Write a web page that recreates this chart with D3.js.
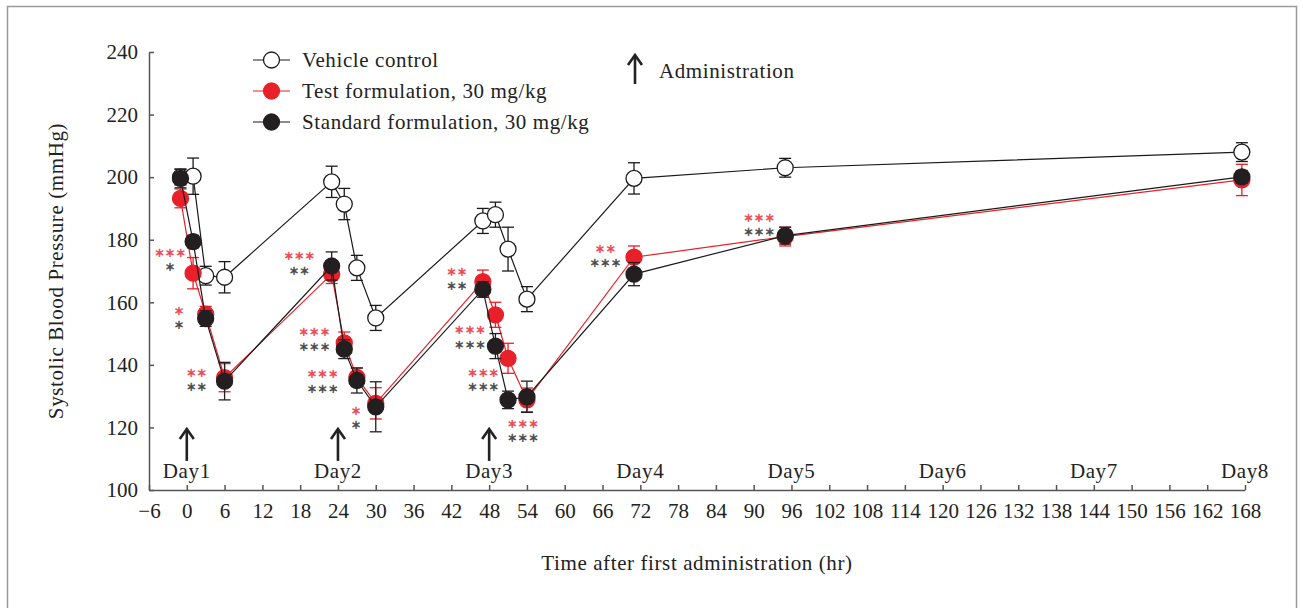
<!DOCTYPE html>
<html>
<head>
<meta charset="utf-8">
<script src="https://cdn.jsdelivr.net/npm/d3@7"></script>
<style>
  body { margin: 0; background: #fff; }
  svg { display: block; font-family: "Liberation Serif", "DejaVu Serif", serif; }
  .axis path, .axis line { stroke: #555; stroke-width: 1.5; }
  .axis text { font-family: "Liberation Serif", serif; font-size: 21px; fill: #222; }
  .label { font-size: 21px; fill: #222; letter-spacing: 0.6px; }
</style>
</head>
<body>
<div class="container"></div>
<script>
// sampling times (hr after first administration)
const times = [-1, 1, 3, 6, 23, 25, 27, 30, 47, 49, 51, 54, 71, 95, 167.5];

const vehicleMean = [200, 200.3, 168.5, 168, 198.5, 191.4, 171, 155, 186, 188, 177, 161, 199.6, 203, 208];
const vehicleSE = [2.5, 5.8, 3, 5, 5, 5, 4, 4, 4, 4, 7, 4, 5, 3, 3];
const testMean = [193.2, 169.3, 156.2, 135.9, 169, 147, 136, 127.7, 166.6, 156, 142.1, 128.8, 174.4, 181, 199.1];
const testSE = [3, 5, 2.5, 4.5, 3, 3.5, 3, 5, 3.7, 4, 4.8, 3.8, 3.6, 3, 5];
const stdMean = [199.6, 179.4, 154.8, 134.8, 171.6, 145, 135, 126.6, 164.1, 146, 128.8, 129.8, 169, 181.3, 200.1];
const stdSE = [3, 2, 2.5, 6, 4.5, 3, 4, 8, 2.5, 4, 2.8, 5, 3.7, 2.7, 2];

// significance marks (anchor in data units: time, mmHg)
const sigTimes = [-2.6, -1.2, 1.6, 17.9, 20.3, 21.6, 26.9, 42.9, 45.0, 47.1, 53.4, 66.5, 90.9];
const sigLevels = [175.7, 157.2, 137.3, 174.6, 150.3, 136.8, 125.2, 169.6, 150.9, 137.3, 121.0, 177.0, 186.8];
const testSig = ["＊＊＊", "＊", "＊＊", "＊＊＊", "＊＊＊", "＊＊＊", "＊", "＊＊", "＊＊＊", "＊＊＊", "＊＊＊", "＊＊", "＊＊＊"];
const stdSig = ["＊", "＊", "＊＊", "＊＊", "＊＊＊", "＊＊＊", "＊", "＊＊", "＊＊＊", "＊＊＊", "＊＊＊", "＊＊＊", "＊＊＊"];

const doseTimes = [0, 24, 48];
const dayLabels = ["Day1", "Day2", "Day3", "Day4", "Day5", "Day6", "Day7", "Day8"];
const dayTimes = [0, 24, 48, 72, 96, 120, 144, 168];
const xTicks = d3.range(-6, 169, 6);
const yTicks = [100, 120, 140, 160, 180, 200, 220, 240];

const seriesNames = ["Vehicle control", "Test formulation, 30 mg/kg", "Standard formulation, 30 mg/kg"];

const W = 1303, H = 608;
const svg = d3.select(".container")
  .append("svg")
  .attr("width", W)
  .attr("height", H);

// frame round the figure
svg.append("rect")
  .attr("x", 7.5).attr("y", 6.5)
  .attr("width", 1289).attr("height", 620)
  .attr("fill", "none")
  .attr("stroke", "#9a9a9a")
  .attr("stroke-width", 1.5);

const xScale = d3.scaleLinear().domain([-6, 168]).range([149, 1245]);
const yScale = d3.scaleLinear().domain([100, 240]).range([490, 52]);

/* axes, ticks pointing inward */
svg.append("g")
  .attr("class", "axis")
  .attr("transform", `translate(0,${yScale(100)})`)
  .call(d3.axisBottom(xScale)
    .tickValues(xTicks)
    .tickSizeInner(-5)
    .tickSizeOuter(0)
    .tickPadding(13)
    .tickFormat(d => (d < 0 ? "\u2212" + Math.abs(d) : d)));

svg.append("g")
  .attr("class", "axis")
  .attr("transform", `translate(${xScale(-6)},0)`)
  .call(d3.axisLeft(yScale)
    .tickValues(yTicks)
    .tickSizeInner(-5)
    .tickSizeOuter(0)
    .tickPadding(11));

// axis titles
svg.append("text")
  .attr("class", "label")
  .attr("x", 697).attr("y", 570)
  .attr("text-anchor", "middle")
  .text("Time after first administration (hr)");

svg.append("text")
  .attr("class", "label")
  .attr("transform", `translate(63,${yScale(170)}) rotate(-90)`)
  .attr("text-anchor", "middle")
  .text("Systolic Blood Pressure (mmHg)");

// day labels
svg.append("g").selectAll("text")
  .data(dayLabels)
  .join("text")
  .attr("class", "label")
  .attr("x", (d, i) => xScale(dayTimes[i]))
  .attr("y", 478)
  .attr("text-anchor", "middle")
  .text(d => d);

// administration arrows
const arrow = (g, x, yTop, yBot) => {
  g.append("line")
    .attr("x1", x).attr("x2", x)
    .attr("y1", yTop + 1).attr("y2", yBot);
  g.append("path")
    .attr("d", `M${x - 7},${yTop + 10}L${x},${yTop}L${x + 7},${yTop + 10}`)
    .attr("fill", "none");
};
const arrows = svg.append("g")
  .attr("stroke", "#222")
  .attr("stroke-width", 2.6);
doseTimes.forEach(t => arrow(arrows, xScale(t), yScale(119.5), yScale(109.3)));

/* series */
const series = [
  { mean: vehicleMean, se: vehicleSE, line: "#1a1a1a", fill: "#fff", stroke: "#1a1a1a" },
  { mean: testMean, se: testSE, line: "#e8202a", fill: "#e8202a", stroke: "#e8202a" },
  { mean: stdMean, se: stdSE, line: "#1a1a1a", fill: "#231f20", stroke: "#231f20" }
];

const line = d3.line()
  .x(d => xScale(d.t))
  .y(d => yScale(d.v));

series.forEach(s => {
  const pts = times.map((t, i) => ({ t: t, v: s.mean[i], e: s.se[i] }));
  const g = svg.append("g");

  g.append("path")
    .datum(pts)
    .attr("d", line)
    .attr("fill", "none")
    .attr("stroke", s.line)
    .attr("stroke-width", 1.2);

  // error bars
  const eb = g.append("g")
    .attr("stroke", s.stroke)
    .attr("stroke-width", 1.3);
  pts.forEach(d => {
    const x = xScale(d.t);
    eb.append("line")
      .attr("x1", x).attr("x2", x)
      .attr("y1", yScale(d.v + d.e)).attr("y2", yScale(d.v - d.e));
    [d.v + d.e, d.v - d.e].forEach(v => {
      eb.append("line")
        .attr("x1", x - 6).attr("x2", x + 6)
        .attr("y1", yScale(v)).attr("y2", yScale(v));
    });
  });

  g.selectAll("circle")
    .data(pts)
    .join("circle")
    .attr("cx", d => xScale(d.t))
    .attr("cy", d => yScale(d.v))
    .attr("r", 8)
    .attr("fill", s.fill)
    .attr("stroke", s.stroke)
    .attr("stroke-width", 1.3);
});

// significance asterisks, test row on top, standard row below
const sig = svg.append("g")
  .attr("text-anchor", "middle")
  .attr("font-family", "Noto Sans CJK JP, sans-serif")
  .attr("font-size", 10)
  .attr("font-weight", 700)
  .attr("letter-spacing", 0.6)
  .attr("stroke-width", 0.5);
sigTimes.forEach((t, i) => {
  const x = xScale(t), y = yScale(sigLevels[i]);
  sig.append("text")
    .attr("x", x).attr("y", y + 3.5)
    .attr("fill", "#ef4650").attr("stroke", "#ef4650")
    .text(testSig[i]);
  sig.append("text")
    .attr("x", x).attr("y", y + 18)
    .attr("fill", "#4a4a4a").attr("stroke", "#4a4a4a")
    .text(stdSig[i]);
});

/* legend */
const legend = svg.append("g").attr("transform", "translate(253,60)");
series.forEach((s, i) => {
  const row = legend.append("g").attr("transform", `translate(0,${i * 31})`);
  row.append("line")
    .attr("x1", 0).attr("x2", 37)
    .attr("stroke", s.line).attr("stroke-width", 1.2);
  row.append("circle")
    .attr("cx", 18.5).attr("r", 8)
    .attr("fill", s.fill)
    .attr("stroke", s.stroke)
    .attr("stroke-width", 1.3);
  row.append("text")
    .attr("class", "label")
    .attr("x", 49).attr("y", 7)
    .text(seriesNames[i]);
});

const legArrow = svg.append("g")
  .attr("stroke", "#222")
  .attr("stroke-width", 2.6);
arrow(legArrow, 635, 55, 84);
svg.append("text")
  .attr("class", "label")
  .attr("x", 659).attr("y", 78)
  .text("Administration");
</script>
</body>
</html>
